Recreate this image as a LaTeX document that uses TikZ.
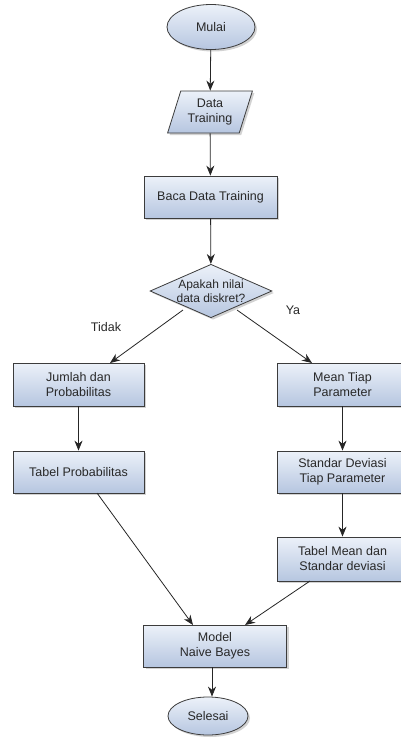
\documentclass[tikz,border=0pt]{standalone}
\usepackage{fontspec}
\setmainfont{Liberation Sans}
\usetikzlibrary{shapes.geometric,arrows.meta,shadows}
\definecolor{boxtop}{RGB}{236,241,249}
\definecolor{boxbot}{RGB}{182,198,224}
\definecolor{edge}{RGB}{60,60,60}
\definecolor{txt}{RGB}{40,40,40}
\tikzset{
  base/.style={draw=edge, line width=0.8pt, top color=boxtop, bottom color=boxbot,
    text=txt, font=\fontsize{12.5}{15}\selectfont, align=center, inner sep=0pt,
    drop shadow={opacity=0.35, shadow xshift=2pt, shadow yshift=-2pt}},
  procbox/.style={base, rectangle, minimum width=131pt, minimum height=42pt},
  term/.style={base, ellipse},
  iobox/.style={base, trapezium, trapezium left angle=69, trapezium right angle=111,
    trapezium stretches=true, minimum width=85pt, minimum height=42pt},
  decbox/.style={base, diamond, aspect=2.28, font=\fontsize{12}{14.5}\selectfont},
  arr/.style={draw=black!85, line width=0.8pt, -{Stealth[length=10pt,width=8pt]}},
  lbl/.style={text=txt, font=\fontsize{12.5}{14}\selectfont}
}
\begin{document}
\begin{tikzpicture}[x=1pt,y=-1pt]
\clip (0,0) rectangle (401,753);
\fill[white] (0,0) rectangle (401,753);
\node[term, minimum width=88pt, minimum height=45pt] (start) at (211,27) {Mulai};
\node[iobox] (data) at (210,112) {Data\\Training};
\node[procbox, minimum width=133pt] (baca) at (210.5,197) {Baca Data Training};
\node[decbox] (dec) at (211,291) {Apakah nilai\\data diskret?};
\node[procbox, minimum height=43pt] (jumlah) at (78.5,384.5) {Jumlah dan\\Probabilitas};
\node[procbox, minimum height=43pt] (mean) at (342.5,384.5) {Mean Tiap\\Parameter};
\node[procbox] (tabprob) at (78.5,472) {Tabel Probabilitas};
\node[procbox] (stdev) at (342.5,472) {Standar Deviasi\\Tiap Parameter};
\node[procbox, minimum height=44pt] (tabmean) at (342.5,559) {Tabel Mean dan\\Standar deviasi};
\node[procbox, minimum width=143pt] (model) at (215,646) {Model\\Naive Bayes};
\node[term, minimum width=80pt, minimum height=38pt] (end) at (208,716) {Selesai};

\coordinate (decL) at (183,310);
\coordinate (decR) at (237,310);
\coordinate (jumT) at (110,363);
\coordinate (meanT) at (312,363);
\coordinate (tpB) at (97,493);
\coordinate (tmB) at (310,581);
\coordinate (modTL) at (193,625);
\coordinate (modTR) at (245,625);

\draw[arr] (start) -- (data);
\draw[arr] (data) -- (baca);
\draw[arr] (baca) -- (dec);
\draw[arr] (decL) -- (jumT);
\draw[arr] (decR) -- (meanT);
\draw[arr] (jumlah) -- (tabprob);
\draw[arr] (mean) -- (stdev);
\draw[arr] (stdev) -- (tabmean);
\draw[arr] (tpB) -- (modTL);
\draw[arr] (tmB) -- (modTR);
\draw[arr] ([xshift=-3pt]model.south) -- ([xshift=4pt]end.north);

\node[lbl] (tidak) at (106,327) {Tidak};
\node[lbl] (ya) at (293,310) {Ya};
\end{tikzpicture}
\end{document}
